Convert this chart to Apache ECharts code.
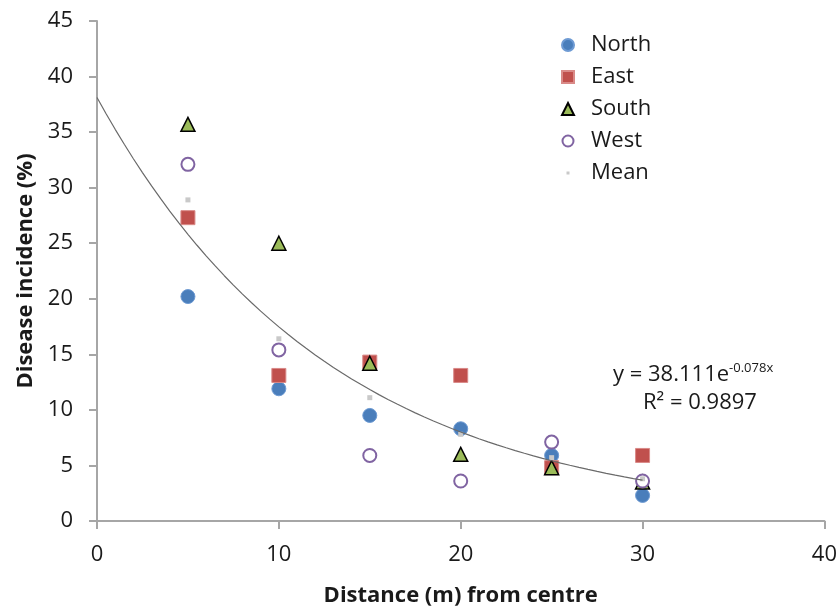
<!DOCTYPE html>
<html>
<head>
<meta charset="utf-8">
<script src="https://cdn.jsdelivr.net/npm/echarts@6/dist/echarts.min.js"></script>
<style>
html,body{margin:0;padding:0;background:#fff;}
#chart{width:840px;height:612px;}
</style>
</head>
<body>
<div id="chart"></div>
<script>
// ---- data ----
const distances = [5, 10, 15, 20, 25, 30];
const north = [20.2, 11.9, 9.5, 8.3, 5.9, 2.3];
const east  = [27.3, 13.1, 14.3, 13.1, 4.8, 5.9];
const south = [35.7, 25.0, 14.2, 6.0, 4.8, 3.5];
const west  = [32.1, 15.4, 5.9, 3.6, 7.1, 3.6];
const mean  = [28.9, 16.4, 11.1, 7.8, 5.7, 3.8];
const xTicks = [0, 10, 20, 30, 40];
const yTicks = [0, 5, 10, 15, 20, 25, 30, 35, 40, 45];
// trendline coefficients as printed on the chart
const trendA = 38.111;
const trendK = -0.078;
const trendRange = [0, 30];
const eqLine1 = 'y = 38.111e';
const eqSup = '-0.078x';
const eqLine2 = 'R² = 0.9897';

const FONT = '"Open Sans", Lato, sans-serif';

function pairs(ys) { return distances.map((x, i) => [x, ys[i]]); }
const trendData = [];
for (let x = trendRange[0]; x <= trendRange[1] + 1e-9; x += 0.5) {
  trendData.push([x, trendA * Math.exp(trendK * x)]);
}

const chart = echarts.init(document.getElementById('chart'), null, {renderer: 'canvas'});
const axisLine = {show: true, lineStyle: {color: '#a6a6a6', width: 2}};
const axisTick = {show: true, length: 8, inside: false, lineStyle: {color: '#a6a6a6', width: 2}};

chart.setOption({
  animation: false,
  backgroundColor: '#ffffff',
  grid: {left: 97, right: 15, top: 21, bottom: 87, containLabel: false},
  xAxis: {
    type: 'value', min: xTicks[0], max: xTicks[xTicks.length - 1], interval: 10,
    axisLine, axisTick, splitLine: {show: false},
    axisLabel: {fontFamily: FONT, fontSize: 22, color: '#1a1a1a', margin: 23},
    name: 'Distance (m) from centre', nameLocation: 'middle', nameGap: 64,
    nameTextStyle: {fontFamily: FONT, fontSize: 22, fontWeight: 'bold', color: '#1a1a1a'}
  },
  yAxis: {
    type: 'value', min: yTicks[0], max: yTicks[yTicks.length - 1], interval: 5,
    axisLine, axisTick, splitLine: {show: false},
    axisLabel: {fontFamily: FONT, fontSize: 22, color: '#1a1a1a', margin: 24},
    name: 'Disease incidence (%)', nameLocation: 'middle', nameGap: 52,
    nameTextStyle: {fontFamily: FONT, fontSize: 22, fontWeight: 'bold', color: '#1a1a1a'}
  },
  legend: {
    orient: 'vertical', left: 544, top: 29,
    itemWidth: 36, itemHeight: 13, itemGap: 10,
    textStyle: {fontFamily: FONT, fontSize: 22, color: '#1a1a1a', lineHeight: 22},
    data: [
      {name: 'North', icon: 'path://M0,0M36,13M12,6.5A6,6,0,1,1,24,6.5A6,6,0,1,1,12,6.5z'},
      {name: 'East', icon: 'path://M0,0M36,13M12,0.5h12v12h-12z'},
      {name: 'South', icon: 'path://M0,0M36,13M18,0.5L24,12.5L12,12.5z'},
      {name: 'West', icon: 'path://M0,0M36,13M12.5,6.5A5.5,5.5,0,1,1,23.5,6.5A5.5,5.5,0,1,1,12.5,6.5z'},
      {name: 'Mean', icon: 'path://M0,0M36,13M16.5,5h3v3h-3z'}
    ]
  },
  series: [
    {name: 'North', type: 'scatter', symbol: 'circle', symbolSize: 14, z: 2,
     itemStyle: {color: '#4a7ebb', borderColor: '#6d9ad3', borderWidth: 1, opacity: 1},
     data: pairs(north)},
    {name: 'East', type: 'scatter', symbol: 'rect', symbolSize: 14, z: 2,
     itemStyle: {color: '#c0504d', borderColor: '#d98a88', borderWidth: 1, opacity: 1},
     data: pairs(east)},
    {name: 'South', type: 'scatter', symbol: 'triangle', symbolSize: 14, z: 2,
     itemStyle: {color: '#9bbb59', borderColor: '#000000', borderWidth: 1.5, opacity: 1},
     data: pairs(south)},
    {name: 'West', type: 'scatter', symbol: 'circle', symbolSize: 13, z: 2,
     itemStyle: {color: '#ffffff', borderColor: '#8064a2', borderWidth: 2, opacity: 1},
     data: pairs(west)},
    {name: 'Mean', type: 'scatter', symbol: 'rect', symbolSize: 5, z: 2,
     itemStyle: {color: '#c9c9c9', opacity: 1},
     data: pairs(mean)},
    {name: 'Trend', type: 'line', showSymbol: false, symbol: 'none', z: 3,
     lineStyle: {color: '#6a6a6a', width: 1.2}, silent: true,
     data: trendData}
  ],
  graphic: [
    {type: 'text', left: 613, top: 362, z: 10,
     style: {
       text: eqLine1 + '{sup|' + eqSup + '}',
       font: '22px ' + FONT, fill: '#1a1a1a', lineHeight: 26,
       rich: {sup: {fontFamily: FONT, fontSize: 13, lineHeight: 10, verticalAlign: 'top', fill: '#1a1a1a'}}
     }},
    {type: 'text', left: 643, top: 392, z: 10,
     style: {text: eqLine2, font: '22px ' + FONT, fill: '#1a1a1a'}}
  ]
});
</script>
</body>
</html>
